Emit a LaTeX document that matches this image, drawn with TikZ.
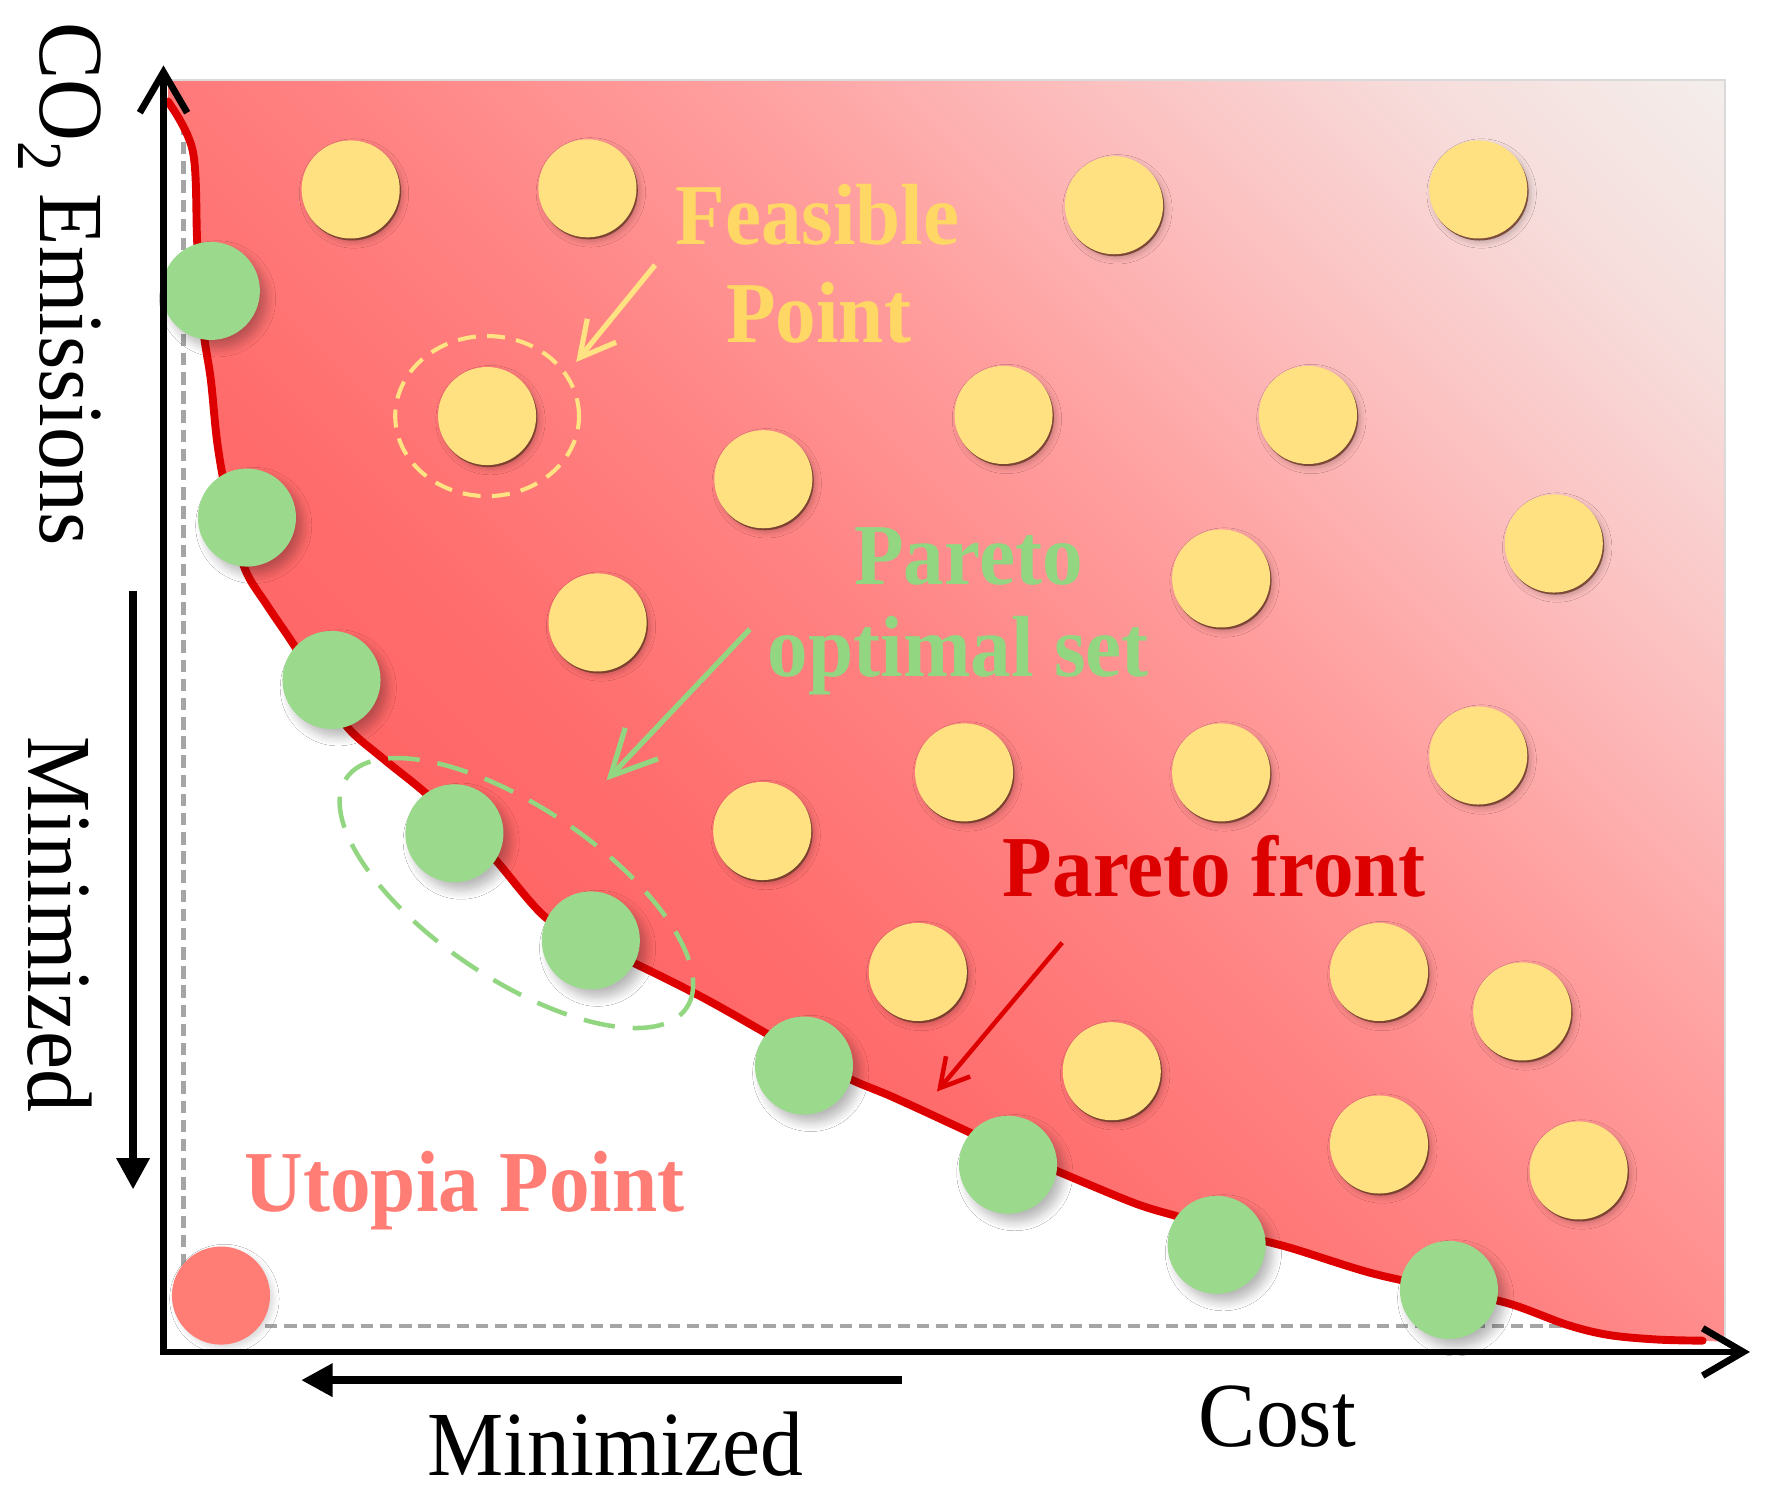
\documentclass[tikz,border=0pt]{standalone}
\usepackage{fontspec}
\setmainfont{Liberation Serif}
\usetikzlibrary{arrows.meta,shapes.geometric,shadows,shadows.blur}
\definecolor{ylw}{RGB}{255,225,130}
\definecolor{ylwtxt}{RGB}{255,215,100}
\definecolor{ylwring}{RGB}{255,226,130}
\definecolor{grn}{RGB}{155,217,140}
\definecolor{grntxt}{RGB}{146,214,130}
\definecolor{frontred}{RGB}{222,0,0}
\definecolor{fronttxt}{RGB}{220,0,0}
\definecolor{utop}{RGB}{255,125,117}
\definecolor{dashgray}{RGB}{165,165,165}
\definecolor{bordergray}{RGB}{218,218,218}
\definecolor{shadowbrown}{RGB}{110,60,40}
\pgfdeclarehorizontalshading{redfade}{100bp}{rgb(0bp)=(1,0.384,0.384); rgb(30bp)=(1,0.384,0.384); rgb(40bp)=(1,0.424,0.424); rgb(50bp)=(1,0.51,0.51); rgb(60bp)=(1,0.62,0.62); rgb(70bp)=(0.988,0.76,0.76); rgb(78bp)=(0.965,0.87,0.863); rgb(86bp)=(0.953,0.937,0.929); rgb(100bp)=(0.953,0.937,0.929)}
\newcommand{\stretchtxt}[1]{\scalebox{1}[1.07]{#1}}
\newcommand{\lblfont}{\fontsize{36}{40}\selectfont\bfseries}
\newcommand{\axfont}{\fontsize{38}{44}\selectfont}
\tikzset{
  ycirc/.style={circle, fill=ylw, minimum size=43.5pt, inner sep=0pt,
    blur shadow={shadow xshift=1.5pt, shadow yshift=-1.8pt, shadow blur radius=2.5pt, shadow opacity=22, shadow blur steps=6},
    drop shadow={fill=shadowbrown, opacity=0.85, shadow xshift=0.6pt, shadow yshift=-0.9pt}},
  gcirc/.style={circle, fill=grn, minimum size=43.5pt, inner sep=0pt,
    blur shadow={shadow xshift=3pt, shadow yshift=-3.5pt, shadow blur radius=4pt, shadow opacity=28, shadow blur steps=8}},
  ucirc/.style={circle, fill=utop, minimum size=43.5pt, inner sep=0pt,
    blur shadow={shadow xshift=1.5pt, shadow yshift=-1.5pt, shadow blur radius=2.5pt, shadow opacity=15, shadow blur steps=6}},
  axisline/.style={line width=3pt, black, {Straight Barb[length=18pt,width=21pt]}-{Straight Barb[length=18pt,width=21pt]}},
  minarrow/.style={line width=3.5pt, black, -{Triangle[length=14pt,width=14pt]}},
  graydash/.style={dashgray, line width=2.1pt, dash pattern=on 5.5pt off 3pt},
  frontcurve/.style={frontred, line width=3.5pt, line join=round, line cap=round},
  lbl/.style={font=\lblfont, anchor=base, inner sep=0pt},
  axlbl/.style={font=\axfont, anchor=base, inner sep=0pt},
  lblarrow/.style 2 args={line width=2.3pt, -{Straight Barb[length=#1,width=#2]}},
}
\begin{document}
\begin{tikzpicture}[x=0.5pt,y=-0.5pt]
\useasboundingbox (0,0) rectangle (1568,1329);
\fill[white] (0,0) rectangle (1568,1329);

% gray dashed guide lines
\draw[graydash] (163,75) -- (163,1176) -- (1450,1176);

% feasible region
\shade[shading=redfade, shading angle=45]
  (149,71) -- plot[smooth, tension=0.55] coordinates {(149,90) (171,134) (175,217) (180,290) (187,337) (193,395) (203,450) (217,504) (237,537) (258,568) (285,610) (309,646) (340,673) (377,703) (410,735) (438,761) (482,812) (522,836) (562,854) (622,884) (677,915) (715,937) (756,958) (792,973) (855,1002) (893,1020) (936,1038) (1006,1067) (1045,1079) (1090,1093) (1142,1106) (1216,1129) (1280,1143) (1338,1156) (1390,1175) (1427,1184) (1470,1188) (1510,1189)}
  -- (1530,1190) -- (1530,71) -- cycle;
\draw[bordergray, line width=1pt] (149,71) -- (1530,71) -- (1530,1190);

% Pareto front curve
\draw[frontcurve] plot[smooth, tension=0.55] coordinates {(149,90) (171,134) (175,217) (180,290) (187,337) (193,395) (203,450) (217,504) (237,537) (258,568) (285,610) (309,646) (340,673) (377,703) (410,735) (438,761) (482,812) (522,836) (562,854) (622,884) (677,915) (715,937) (756,958) (792,973) (855,1002) (893,1020) (936,1038) (1006,1067) (1045,1079) (1090,1093) (1142,1106) (1216,1129) (1280,1143) (1338,1156) (1390,1175) (1427,1184) (1470,1188) (1510,1189)};

% feasible points
\node[ycirc] (y1) at (311,168) {};
\node[ycirc] (y2) at (521,167) {};
\node[ycirc] (y3) at (988,182) {};
\node[ycirc] (y4) at (1311,168) {};
\node[ycirc] (y5) at (432,369) {};
\node[ycirc] (y6) at (890,368) {};
\node[ycirc] (y7) at (1160,368) {};
\node[ycirc] (y8) at (677,425) {};
\node[ycirc] (y9) at (1378,482) {};
\node[ycirc] (y10) at (1083,513) {};
\node[ycirc] (y11) at (530,552) {};
\node[ycirc] (y12) at (855,685) {};
\node[ycirc] (y13) at (1083,685) {};
\node[ycirc] (y14) at (1311,670) {};
\node[ycirc] (y15) at (676,737) {};
\node[ycirc] (y16) at (814,862) {};
\node[ycirc] (y17) at (1223,862) {};
\node[ycirc] (y18) at (1350,897) {};
\node[ycirc] (y19) at (986,950) {};
\node[ycirc] (y20) at (1223,1015) {};
\node[ycirc] (y21) at (1400,1038) {};

% Pareto optimal points
\node[gcirc] (g1) at (187,258) {};
\node[gcirc] (g2) at (219,459) {};
\node[gcirc] (g3) at (294,603) {};
\node[gcirc] (g4) at (403,739) {};
\node[gcirc] (g5) at (524,834) {};
\node[gcirc] (g6) at (713,945) {};
\node[gcirc] (g7) at (894,1033) {};
\node[gcirc] (g8) at (1079,1104) {};
\node[gcirc] (g9) at (1285,1144) {};

% utopia point
\node[ucirc] (u) at (196,1149) {};

% dashed rings
\node[ellipse, draw=ylwring, line width=1.8pt, dash pattern=on 8pt off 5pt, minimum width=81.5pt, minimum height=71pt, inner sep=0pt] (fring) at (432,369) {};
\node[ellipse, draw=grntxt, line width=2pt, dash pattern=on 14pt off 8pt, minimum width=182pt, minimum height=76pt, inner sep=0pt, rotate=-34] (gring) at (458,792) {};

% labels
\node[lbl, text=ylwtxt] (feas1) at (725,217) {\stretchtxt{Feasible}};
\node[lbl, text=ylwtxt] (feas2) at (726,304) {\stretchtxt{Point}};
\node[lbl, text=grntxt] (par1) at (859,518) {\stretchtxt{Pareto}};
\node[lbl, text=grntxt] (par2) at (850,600) {\stretchtxt{optimal set}};
\node[lbl, text=fronttxt] (front) at (1077,795) {\stretchtxt{Pareto front}};
\node[lbl, text=utop] (utoplbl) at (412,1074) {\stretchtxt{Utopia Point}};

% label arrows
\coordinate (fa) at (581,235);
\coordinate (fb) at (511,321);
\draw[lblarrow={15.5pt}{16.5pt}, ylwring] (fa) -- (fb);
\coordinate (pa) at (665,558);
\coordinate (pb) at (538,692);
\draw[lblarrow={20pt}{20pt}, grntxt] (pa) -- (pb);
\coordinate (ra) at (942,836);
\coordinate (rb) at (831,968);
\draw[lblarrow={12.5pt}{14pt}, frontred, line width=2pt] (ra) -- (rb);

% axes
\coordinate (ytip) at (145,58);
\coordinate (O) at (145,1199);
\coordinate (xtip) at (1552,1199);
\draw[axisline] (ytip) -- (O) -- (xtip);

% minimized arrows
\coordinate (mva) at (118,524);
\coordinate (mvb) at (118,1055);
\draw[minarrow] (mva) -- (mvb);
\coordinate (mha) at (800,1224);
\coordinate (mhb) at (267,1224);
\draw[minarrow] (mha) -- (mhb);

% axis labels
\node[axlbl, rotate=-90] (ylab) at (36,252) {\stretchtxt{CO\textsubscript{2} Emissions}};
\node[axlbl, rotate=-90] (yminlab) at (25,820) {\stretchtxt{Minimized}};
\node[axlbl] (xminlab) at (546,1309) {\stretchtxt{Minimized}};
\node[axlbl] (costlab) at (1133,1283) {\stretchtxt{Cost}};
\end{tikzpicture}
\end{document}
